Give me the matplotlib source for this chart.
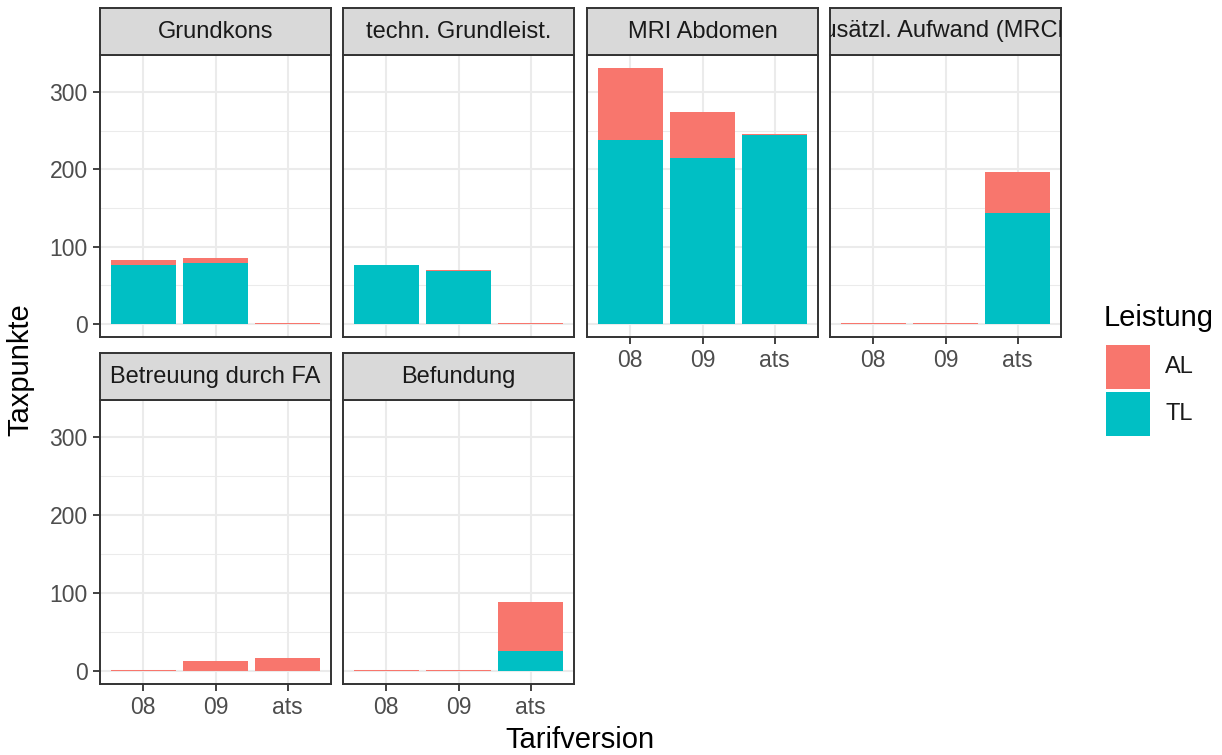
import matplotlib
matplotlib.use("Agg")
import matplotlib.pyplot as plt
from matplotlib.patches import Rectangle

plt.rcParams["font.family"] = ["Liberation Sans", "DejaVu Sans"]

# Taxpunkte per Tarifversion, split into AL / TL
versions = ["08", "09", "ats"]
panels = ["Grundkons", "techn. Grundleist.", "MRI Abdomen",
          "Zusätzl. Aufwand (MRCP)", "Betreuung durch FA", "Befundung"]
tl = [
    [77, 78.5, 0],
    [76.5, 69, 0],
    [238, 215, 244],
    [0, 0, 143],
    [0, 0, 0],
    [0, 0, 25.5],
]
al = [
    [6.5, 6.5, 1.5],
    [0.5, 0.5, 1.5],
    [93, 59, 2],
    [1.5, 1.5, 54],
    [1.5, 13, 17],
    [1.5, 1.5, 63],
]
leistung = ["AL", "TL"]
colors = {"AL": "#F8766D", "TL": "#00BFC4"}

W, H = 1222, 755
fig = plt.figure(figsize=(W / 100, H / 100), dpi=100)

def fx(px):
    return px / W

def fy(py):
    return 1 - py / H

col_x = [100, 343, 587, 830]
pw = 231
rows = [(55, 337), (400, 684)]
strip_h = 47

ymax_total = max(t + a for rt, ra in zip(tl, al) for t, a in zip(rt, ra))
pad = ymax_total * 0.05

for i, name in enumerate(panels):
    r, c = divmod(i, 4)
    top, bot = rows[r]
    x0 = col_x[c]
    ax = fig.add_axes([fx(x0), fy(bot), fx(pw), (bot - top) / H])
    xs = range(1, len(versions) + 1)
    ax.bar(xs, tl[i], width=0.9, color=colors["TL"], zorder=3)
    ax.bar(xs, al[i], bottom=tl[i], width=0.9, color=colors["AL"], zorder=3)
    ax.set_xlim(0.4, len(versions) + 0.6)
    ax.set_ylim(-pad, ymax_total + pad)
    ax.set_yticks([0, 100, 200, 300])
    ax.set_yticks([50, 150, 250], minor=True)
    ax.set_xticks(list(xs))
    ax.set_xticklabels(versions)
    ax.grid(True, which="major", color="#EBEBEB", lw=1.5, zorder=0)
    ax.grid(True, which="minor", axis="y", color="#EBEBEB", lw=0.75, zorder=0)
    ax.tick_params(which="minor", length=0)
    ax.tick_params(which="major", length=5, width=1.3, color="#333333",
                   labelcolor="#4D4D4D", labelsize=16.5, pad=4)
    for s in ax.spines.values():
        s.set_color("#333333")
        s.set_linewidth(1.4)
        s.set_zorder(5)
    ax.set_axisbelow(True)
    # x labels only where no panel below
    if not (r == 1 or c >= 2):
        ax.tick_params(axis="x", length=0, labelbottom=False)
    if c != 0:
        ax.tick_params(axis="y", length=0, labelleft=False)

    # strip
    sax = fig.add_axes([fx(x0), fy(top), fx(pw), strip_h / H])
    sax.set_facecolor("#D9D9D9")
    sax.set_xticks([])
    sax.set_yticks([])
    for s in sax.spines.values():
        s.set_color("#333333")
        s.set_linewidth(1.4)
    sax.text(0.5, 0.5, name, ha="center", va="center", fontsize=17,
             color="#1A1A1A", transform=sax.transAxes, clip_on=True)

fig.text(fx(20), fy(370), "Taxpunkte", rotation=90, ha="center", va="center",
         fontsize=21)
fig.text(fx(580), fy(740), "Tarifversion", ha="center", va="center",
         fontsize=21)

# legend
fig.text(fx(1104), fy(318), "Leistung", ha="left", va="center", fontsize=21)
for k, lab in enumerate(leistung):
    ky = 345 + k * 47
    fig.patches.append(Rectangle((fx(1106), fy(ky + 44)), fx(44), 44 / H,
                                 transform=fig.transFigure,
                                 facecolor=colors[lab], edgecolor="none"))
    fig.text(fx(1165), fy(ky + 22), lab, ha="left", va="center", fontsize=17,
             color="#1A1A1A")

fig.savefig("out.png", dpi=100)
